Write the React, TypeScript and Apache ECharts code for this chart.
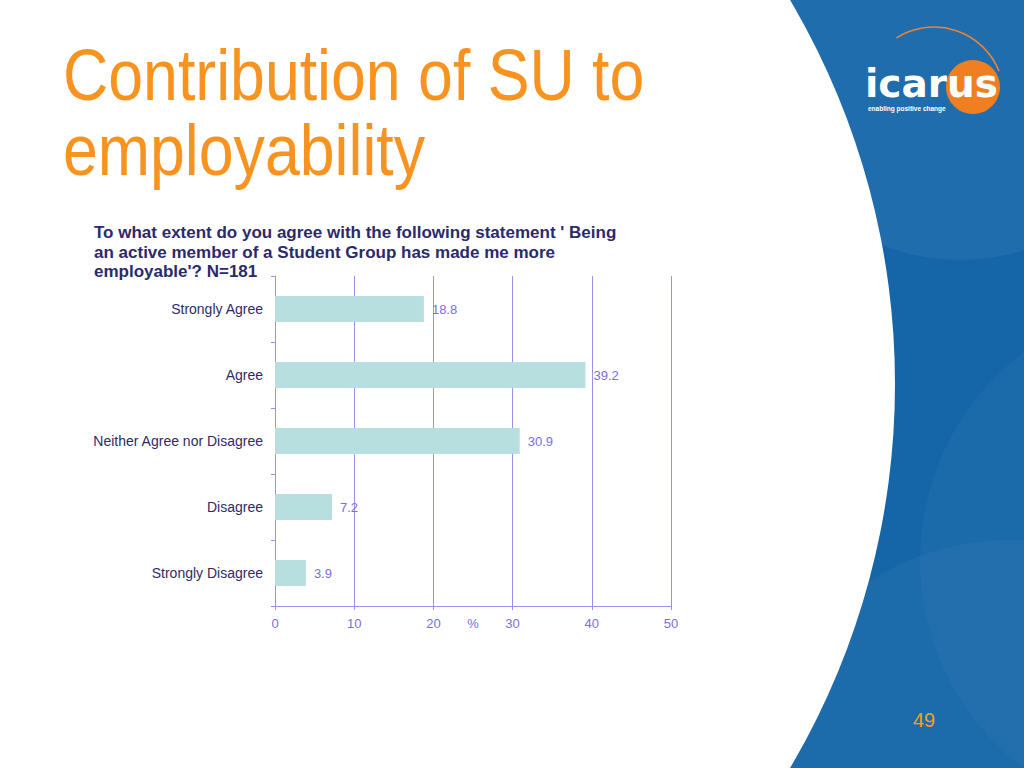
import React, { useEffect, useRef } from "react";
import * as echarts from "echarts";

const categories = [
  "Strongly Agree",
  "Agree",
  "Neither Agree nor Disagree",
  "Disagree",
  "Strongly Disagree",
];
const values = [18.8, 39.2, 30.9, 7.2, 3.9];
const xTicks = [0, 10, 20, 30, 40, 50];

const FONT = "'Liberation Sans', Arial, sans-serif";
const PURPLE = "#9a90ec";
const LABEL_PURPLE = "#7a6ee0";
const NAVY = "#2b2a6b";

export default function App() {
  const ref = useRef<HTMLDivElement>(null);
  useEffect(() => {
    if (!ref.current) return;
    const chart = echarts.init(ref.current, undefined, { renderer: "svg" });
    chart.setOption({
      animation: false,
      backgroundColor: "#ffffff",
      textStyle: { fontFamily: FONT },
      graphic: [
        { type: "rect", z: -10, silent: true, shape: { x: 700, y: 0, width: 324, height: 768 }, style: { fill: "#1466a8" } },
        { type: "circle", z: -9, silent: true, shape: { cx: 960, cy: 50, r: 210 }, style: { fill: "rgba(255,255,255,0.05)" } },
        { type: "circle", z: -9, silent: true, shape: { cx: 1180, cy: 560, r: 260 }, style: { fill: "rgba(255,255,255,0.03)" } },
        { type: "circle", z: -9, silent: true, shape: { cx: 1010, cy: 800, r: 260 }, style: { fill: "rgba(255,255,255,0.035)" } },
        { type: "circle", z: -8, silent: true, shape: { cx: 140, cy: 384, r: 755 }, style: { fill: "#ffffff" } },
        // logo
        { type: "arc", z: 5, silent: true, shape: { cx: 934, cy: 97, r: 70, startAngle: -Math.PI * 0.68, endAngle: -Math.PI * 0.12 }, style: { stroke: "#e8843a", lineWidth: 1.6, fill: "none" } },
        { type: "circle", z: 5, silent: true, shape: { cx: 973, cy: 87, r: 27 }, style: { fill: "#f07f22" } },
        { type: "text", z: 6, silent: true, style: { text: "icarus", x: 865, y: 103, verticalAlign: "bottom", font: `bold 39px 'DejaVu Sans', sans-serif`, fill: "#ffffff" } },
        { type: "text", z: 6, silent: true, style: { text: "enabling positive change", x: 868, y: 108, verticalAlign: "middle", font: `bold 6.5px ${FONT}`, fill: "#ffffff" } },
        { type: "text", z: 6, silent: true, style: { text: "49", x: 924, y: 720, align: "center", verticalAlign: "middle", font: `20px ${FONT}`, fill: "#f0a020" } },
        // title
        { type: "text", silent: true, x: 63, y: 75, scaleX: 0.87, style: { text: "Contribution of SU to", x: 0, y: 0, verticalAlign: "middle", font: `72px ${FONT}`, fill: "#f7931e" } },
        { type: "text", silent: true, x: 63, y: 150, scaleX: 0.87, style: { text: "employability", x: 0, y: 0, verticalAlign: "middle", font: `72px ${FONT}`, fill: "#f7931e" } },
        { type: "text", silent: true, style: { text: "To what extent do you agree with the following statement ' Being", x: 94, y: 232, verticalAlign: "middle", font: `bold 17px ${FONT}`, fill: NAVY } },
        { type: "text", silent: true, style: { text: "an active member of a Student Group has made me more", x: 94, y: 252, verticalAlign: "middle", font: `bold 17px ${FONT}`, fill: NAVY } },
        { type: "text", silent: true, style: { text: "employable'? N=181", x: 94, y: 271, verticalAlign: "middle", font: `bold 17px ${FONT}`, fill: NAVY } },
      ],
      grid: { left: 275, right: 353, top: 276, bottom: 162, containLabel: false },
      xAxis: {
        type: "value",
        min: xTicks[0],
        max: xTicks[xTicks.length - 1],
        interval: 10,
        name: "%",
        nameLocation: "middle",
        nameGap: 11,
        nameMoveOverlap: false,
        nameTextStyle: { color: LABEL_PURPLE, fontSize: 13, fontFamily: FONT, verticalAlign: "top" },
        axisLine: { show: true, lineStyle: { color: PURPLE, width: 1 } },
        axisTick: { show: true, length: 4, lineStyle: { color: PURPLE } },
        axisLabel: { color: LABEL_PURPLE, fontSize: 13, margin: 11, fontFamily: FONT },
        splitLine: { show: true, lineStyle: { color: PURPLE, width: 1 } },
      },
      yAxis: {
        type: "category",
        data: categories,
        inverse: true,
        axisLine: { show: true, lineStyle: { color: PURPLE, width: 1 } },
        axisTick: { show: true, length: 4, lineStyle: { color: PURPLE } },
        axisLabel: { color: "#2e2b66", fontSize: 14, margin: 12, fontFamily: FONT },
      },
      series: [
        {
          type: "bar",
          data: values,
          barWidth: 26,
          itemStyle: { color: "#b8dfe0" },
          label: { show: true, position: "right", distance: 8, color: LABEL_PURPLE, fontSize: 13, fontFamily: FONT },
        },
      ],
    });
    return () => chart.dispose();
  }, []);
  return <div ref={ref} style={{ position: "fixed", left: 0, top: 0, width: 1024, height: 768 }} />;
}
